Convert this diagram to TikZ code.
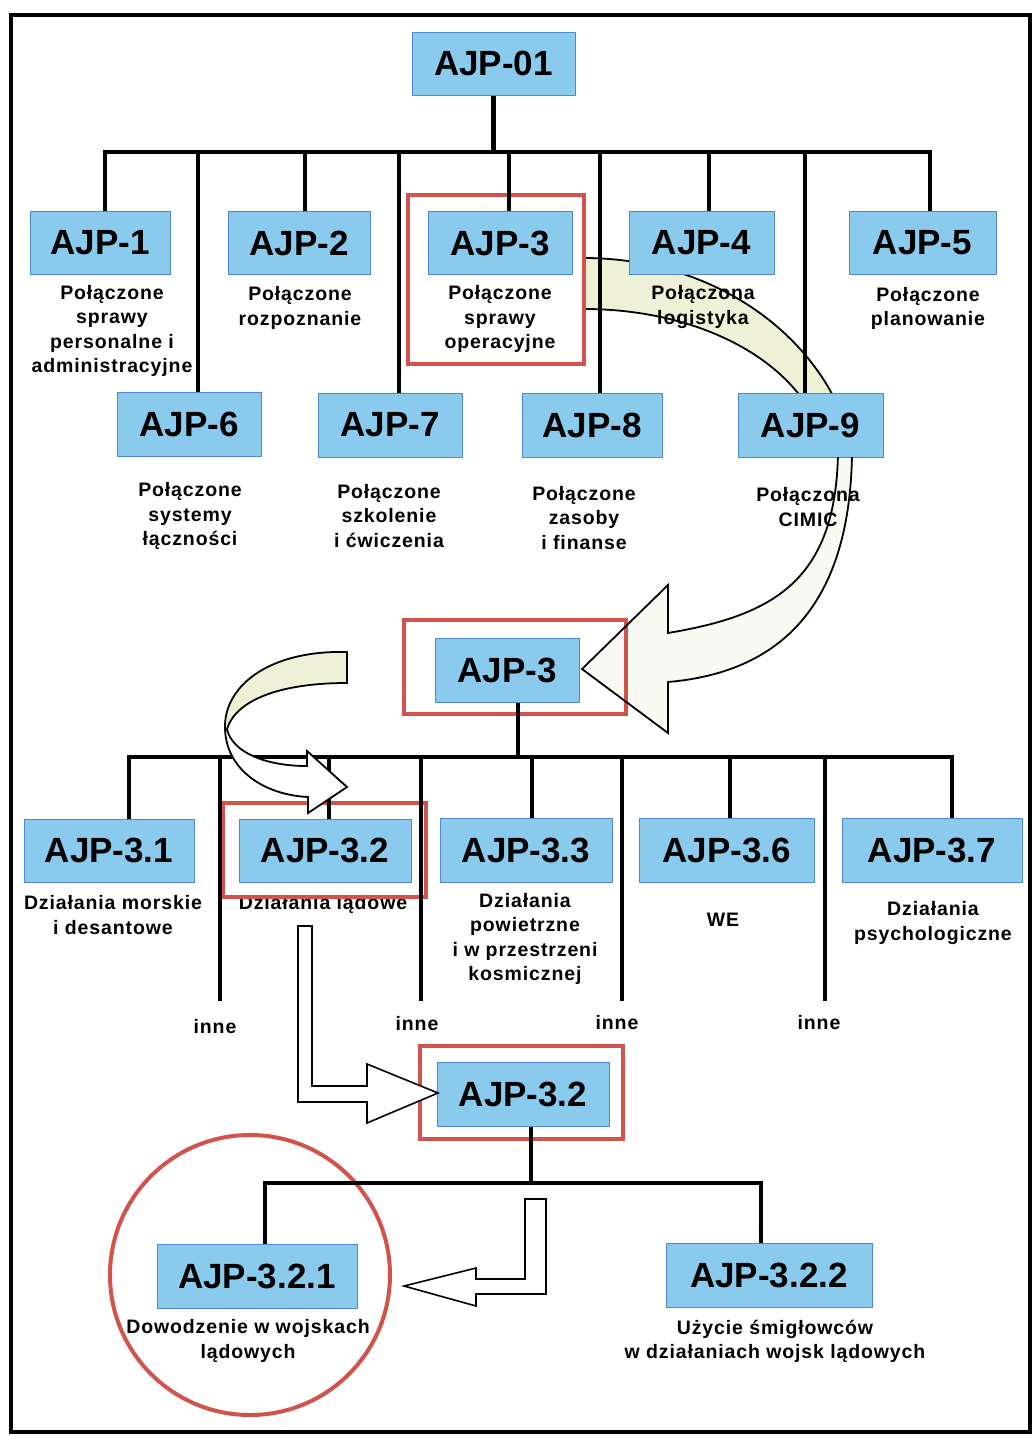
\documentclass[tikz,border=0pt]{standalone}
\usepackage{fontspec}
\setmainfont{Liberation Sans}
\newfontfamily\spacedsans[LetterSpace=4.5]{Liberation Sans}
\definecolor{boxblue}{RGB}{138,202,236}
\definecolor{boxedge}{RGB}{80,135,205}
\definecolor{hired}{RGB}{208,84,76}
\definecolor{ribbon}{RGB}{238,241,214}

\begin{document}
\begin{tikzpicture}[x=1pt,y=-1pt,
  box/.style={draw=boxedge, line width=1pt, fill=boxblue, inner sep=0pt,
              minimum height=63pt, font=\fontsize{35}{40}\selectfont\bfseries},
  lbl/.style={align=center, inner sep=0pt,
              font=\spacedsans\fontsize{19.5}{24.2}\selectfont\bfseries},
  tree/.style={line width=4.5pt, draw=black},
  hilite/.style={draw=hired, line width=4pt},
  outline/.style={draw=black, line width=1.8pt, line join=miter},
]
\useasboundingbox (0,0) rectangle (1033,1436);

% page frame
\draw[line width=4pt] (11,15) rectangle (1030,1432);

% wide ribbon leaving AJP-3 (upper part, lies under the chart)
\path[fill=ribbon, outline] (584,258) .. controls (700,258) and (800,320) .. (840,410)
  -- (810,410) .. controls (770,345) and (680,309) .. (584,309) -- cycle;
% its lower part with the arrow head (fill only here)
\fill[ribbon!35!white] (838,440) .. controls (840,580) and (775,615) .. (668,633)
  -- (668,585) -- (582,669) -- (668,733) -- (668,682)
  .. controls (785,672) and (854,600) .. (852,440) -- cycle;

% ---------- level 1 ----------
\node[box, minimum width=163pt] (ajp01) at (493.5,63.5) {AJP-01};
\node[box, minimum width=140pt] (ajp1) at (100,243) {AJP-1};
\node[box, minimum width=142pt] (ajp2) at (299,243) {AJP-2};
\node[box, minimum width=144pt] (ajp3) at (500,243) {AJP-3};
\node[box, minimum width=145pt] (ajp4) at (701.5,243) {AJP-4};
\node[box, minimum width=147pt] (ajp5) at (922.5,242.5) {AJP-5};
\node[box, minimum width=144pt, minimum height=64pt] (ajp6) at (189,424) {AJP-6};
\node[box, minimum width=144pt, minimum height=64pt] (ajp7) at (390,425) {AJP-7};
\node[box, minimum width=140pt, minimum height=64pt] (ajp8) at (592,425) {AJP-8};
\node[box, minimum width=145pt, minimum height=64pt] (ajp9) at (810.5,425) {AJP-9};

\node[lbl] (t1) at (112,331) {Połączone\\sprawy\\personalne i\\administracyjne};
\node[lbl] (t2) at (300,308) {Połączone\\rozpoznanie};
\node[lbl] (t3) at (500,319) {Połączone\\sprawy\\operacyjne};
\node[lbl] (t4) at (703,307) {Połączona\\logistyka};
\node[lbl] (t5) at (928,308.5) {Połączone\\planowanie};
\node[lbl] (t6) at (190,516) {Połączone\\systemy\\łączności};
\node[lbl] (t7) at (389,516) {Połączone\\szkolenie\\i ćwiczenia};
\node[lbl] (t8) at (584,518) {Połączone\\zasoby\\i finanse};
\node[lbl] (t9) at (808,507) {Połączona\\CIMIC};

% ---------- level 2 ----------
\node[box, minimum width=144pt, minimum height=64pt] (ajp3m) at (507,670) {AJP-3};
\node[box, minimum width=170pt] (ajp31) at (109,850.5) {AJP-3.1};
\node[box, minimum width=172pt] (ajp32) at (325,850.5) {AJP-3.2};
\node[box, minimum width=172pt, minimum height=64pt] (ajp33) at (526,850) {AJP-3.3};
\node[box, minimum width=175pt, minimum height=64pt] (ajp36) at (726.5,850) {AJP-3.6};
\node[box, minimum width=180pt, minimum height=64pt] (ajp37) at (932,850) {AJP-3.7};

\node[lbl] (t31) at (113,915) {Działania morskie\\i desantowe};
\node[lbl] (t32) at (323,904) {Działania lądowe};
\node[lbl] (t33) at (525,939) {Działania\\powietrzne\\i w przestrzeni\\kosmicznej};
\node[lbl] (t36) at (723,920) {WE};
\node[lbl] (t37) at (933,923) {Działania\\psychologiczne};
\node[lbl] (o1) at (215,1027) {inne};
\node[lbl] (o2) at (417,1024) {inne};
\node[lbl] (o3) at (617,1023) {inne};
\node[lbl] (o4) at (819,1023) {inne};

% ---------- level 3 ----------
\node[box, minimum width=172pt, minimum height=64pt] (ajp32b) at (523,1094) {AJP-3.2};
\node[box, minimum width=200pt, minimum height=64pt] (ajp321) at (257,1276) {AJP-3.2.1};
\node[box, minimum width=206pt, minimum height=64pt] (ajp322) at (769,1275) {AJP-3.2.2};

\node[lbl] (t321) at (248,1341) {Dowodzenie w wojskach\\lądowych};
\node[lbl] (t322) at (775,1341) {Użycie śmigłowców\\w działaniach wojsk lądowych};

% highlight frames
\draw[hilite] (408,195) rectangle (584,364);
\draw[hilite] (404,620) rectangle (626,714);
\draw[hilite] (223,803) rectangle (426,897);
\draw[hilite] (420,1046) rectangle (623,1139);
\draw[hilite] (250,1275) circle[radius=140];

% ---------- tree connectors, level 1 ----------
\coordinate (a1) at (105,152);  \coordinate (a6) at (198,152);
\coordinate (a2) at (305,152);  \coordinate (a7) at (399,152);
\coordinate (a3) at (509,152);  \coordinate (a8) at (600,152);
\coordinate (a4) at (709,152);  \coordinate (a9) at (805,152);
\coordinate (a5) at (930,152);
\draw[tree] (ajp01.south) -- (ajp01.south |- a1);
\draw[tree, line cap=rect] (a1) -- (a5);
\foreach \c/\n in {a1/ajp1, a2/ajp2, a3/ajp3, a4/ajp4, a5/ajp5,
                   a6/ajp6, a7/ajp7, a8/ajp8, a9/ajp9}
  \draw[tree] (\c) -- (\c |- \n.north);

% ---------- tree connectors, level 2 ----------
\coordinate (m0) at (518,757);
\coordinate (m1) at (129,757);  \coordinate (m2) at (329,757);
\coordinate (m3) at (532,757);  \coordinate (m6) at (730,757);
\coordinate (m7) at (952,757);
\coordinate (n1) at (220,757);  \coordinate (n2) at (421,757);
\coordinate (n3) at (622,757);  \coordinate (n4) at (825,757);
\draw[tree] (m0 |- ajp3m.south) -- (m0);
\draw[tree, line cap=rect] (m1) -- (m7);
\foreach \c/\n in {m1/ajp31, m2/ajp32, m3/ajp33, m6/ajp36, m7/ajp37}
  \draw[tree] (\c) -- (\c |- \n.north);
\foreach \c in {n1, n2, n3, n4}
  \draw[tree] (\c) -- ++(0,244) coordinate (\c end);

% ---------- tree connectors, level 3 ----------
\coordinate (b0) at (531,1183);
\coordinate (b1) at (265,1183);
\coordinate (b2) at (761,1183);
\draw[tree] (b0 |- ajp32b.south) -- (b0);
\draw[tree, line cap=rect] (b1) -- (b2);
\draw[tree] (b1) -- (b1 |- ajp321.north);
\draw[tree] (b2) -- (b2 |- ajp322.north);

% outline of the wide ribbon below AJP-9
\begin{scope}
  \clip (0,457.5) rectangle (1033,1436);
  \draw[outline] (838,440) .. controls (840,580) and (775,615) .. (668,633)
    -- (668,585) -- (582,669) -- (668,733) -- (668,682)
    .. controls (785,672) and (854,600) .. (852,440);
\end{scope}

% twisted arrow from AJP-3 down to AJP-3.2
\fill[white] (347,652) .. controls (270,650) and (226,685) .. (225,725)
  .. controls (224,770) and (265,795) .. (308,797)
  -- (308,813) -- (347,787) -- (307,751) -- (307,766)
  .. controls (265,766) and (232,752) .. (227,729)
  .. controls (236,700) and (280,683) .. (347,683) -- cycle;
\fill[ribbon] (347,652) .. controls (270,650) and (226,685) .. (225,725)
  -- (227,729) .. controls (236,700) and (280,683) .. (347,683) -- cycle;
\draw[outline] (347,652) .. controls (270,650) and (226,685) .. (225,725)
  .. controls (224,770) and (265,795) .. (308,797)
  -- (308,813) -- (347,787) -- (307,751) -- (307,766)
  .. controls (265,766) and (232,752) .. (227,729)
  .. controls (236,700) and (280,683) .. (347,683) -- cycle;

% hollow elbow arrows
\draw[outline, line width=1.6pt, fill=white] (298,926) -- (312,926) -- (312,1086)
  -- (367,1086) -- (367,1064) -- (438,1093) -- (367,1123) -- (367,1102)
  -- (298,1102) -- cycle;
\draw[outline, line width=1.6pt, fill=white] (525,1199) -- (546,1199) -- (546,1294)
  -- (476,1294) -- (476,1306) -- (404,1286) -- (476,1268) -- (476,1279)
  -- (525,1279) -- cycle;

\end{tikzpicture}
\end{document}
